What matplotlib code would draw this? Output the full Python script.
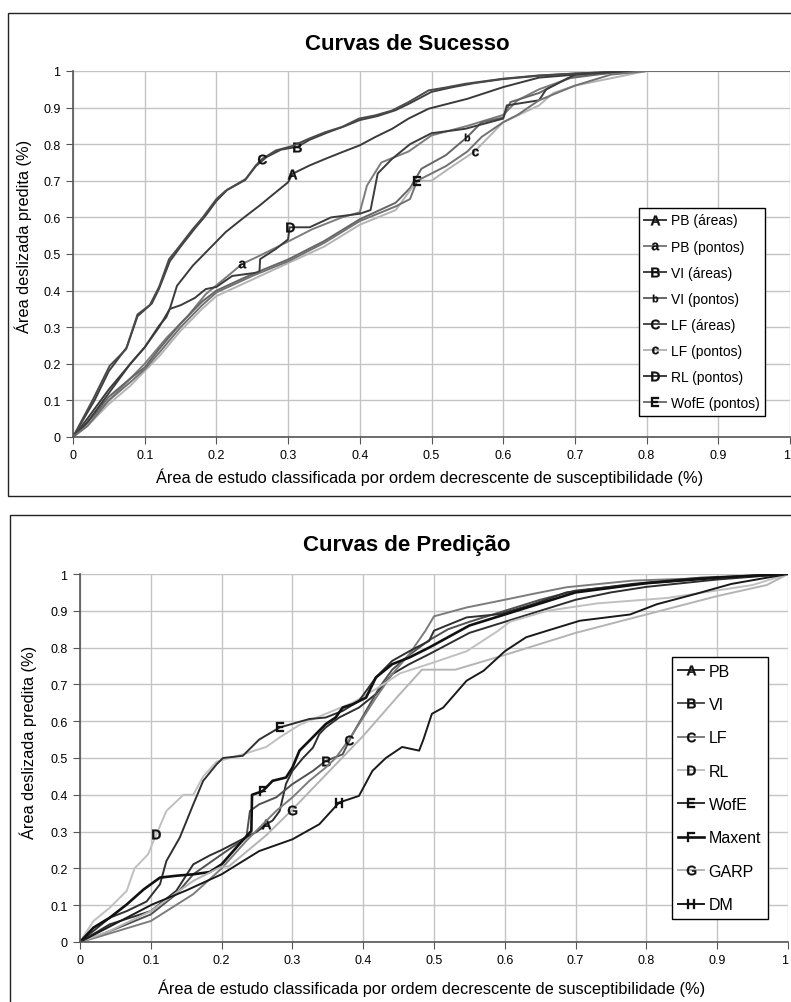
import numpy as np
import matplotlib
matplotlib.use("Agg")
import matplotlib.pyplot as plt
from matplotlib.patches import Rectangle

plt.rcParams['font.family'] = ['Liberation Sans', 'DejaVu Sans']
plt.rcParams['mathtext.fontset'] = 'custom'
plt.rcParams['mathtext.rm'] = 'Liberation Sans'
plt.rcParams['mathtext.bf'] = 'Liberation Sans:bold'

# ---- data: Curvas de Sucesso ----
suc_A_x = [0, 0.02, 0.05, 0.08, 0.1, 0.12, 0.13, 0.135, 0.145, 0.167, 0.19, 0.213, 0.236, 0.26, 0.283, 0.3, 0.306, 0.33, 0.352, 0.375, 0.4, 0.422, 0.445, 0.468, 0.496, 0.55, 0.6, 0.65, 0.7, 0.75, 0.8, 1.0]
suc_A_y = [0, 0.05, 0.13, 0.2, 0.245, 0.304, 0.327, 0.35, 0.413, 0.468, 0.514, 0.56, 0.596, 0.632, 0.669, 0.696, 0.719, 0.742, 0.76, 0.778, 0.797, 0.82, 0.842, 0.87, 0.897, 0.924, 0.956, 0.982, 0.99, 0.997, 1.0, 1.0]

suc_a_x = [0, 0.03, 0.06, 0.1, 0.13, 0.16, 0.185, 0.222, 0.236, 0.26, 0.306, 0.334, 0.375, 0.4, 0.41, 0.43, 0.468, 0.5, 0.55, 0.6, 0.62, 0.65, 0.7, 0.75, 0.8, 1.0]
suc_a_y = [0, 0.06, 0.12, 0.2, 0.27, 0.33, 0.39, 0.45, 0.473, 0.495, 0.54, 0.568, 0.6, 0.614, 0.687, 0.75, 0.78, 0.824, 0.85, 0.88, 0.92, 0.95, 0.985, 0.995, 1.0, 1.0]

suc_C_x = [0, 0.028, 0.051, 0.074, 0.09, 0.107, 0.12, 0.134, 0.144, 0.167, 0.181, 0.2, 0.213, 0.241, 0.255, 0.264, 0.283, 0.306, 0.329, 0.352, 0.375, 0.399, 0.422, 0.445, 0.468, 0.496, 0.52, 0.547, 0.6, 0.65, 0.7, 0.75, 0.8, 1.0]
suc_C_y = [0, 0.103, 0.194, 0.24, 0.335, 0.36, 0.41, 0.486, 0.51, 0.568, 0.6, 0.65, 0.673, 0.705, 0.742, 0.76, 0.783, 0.795, 0.815, 0.833, 0.847, 0.87, 0.879, 0.892, 0.915, 0.947, 0.955, 0.965, 0.979, 0.988, 0.993, 0.997, 1.0, 1.0]

suc_B_x = [0, 0.03, 0.05, 0.075, 0.09, 0.11, 0.12, 0.135, 0.15, 0.17, 0.185, 0.2, 0.215, 0.24, 0.255, 0.27, 0.29, 0.313, 0.33, 0.355, 0.38, 0.4, 0.425, 0.45, 0.47, 0.5, 0.53, 0.56, 0.6, 0.65, 0.7, 0.76, 0.8, 1.0]
suc_B_y = [0, 0.1, 0.18, 0.245, 0.33, 0.365, 0.405, 0.48, 0.52, 0.57, 0.605, 0.645, 0.675, 0.702, 0.74, 0.765, 0.785, 0.793, 0.812, 0.832, 0.85, 0.866, 0.877, 0.893, 0.912, 0.943, 0.956, 0.967, 0.978, 0.987, 0.993, 0.998, 1.0, 1.0]

suc_b_x = [0, 0.02, 0.05, 0.08, 0.1, 0.12, 0.15, 0.18, 0.2, 0.25, 0.3, 0.35, 0.4, 0.45, 0.47, 0.486, 0.52, 0.55, 0.57, 0.6, 0.61, 0.65, 0.69, 0.75, 0.8, 1.0]
suc_b_y = [0, 0.04, 0.11, 0.16, 0.19, 0.24, 0.31, 0.37, 0.4, 0.445, 0.485, 0.535, 0.595, 0.64, 0.68, 0.733, 0.77, 0.82, 0.86, 0.873, 0.915, 0.94, 0.98, 0.995, 1.0, 1.0]

suc_c_x = [0, 0.02, 0.05, 0.08, 0.1, 0.12, 0.15, 0.18, 0.2, 0.25, 0.3, 0.35, 0.4, 0.45, 0.48, 0.5, 0.524, 0.56, 0.58, 0.6, 0.65, 0.67, 0.7, 0.75, 0.8, 1.0]
suc_c_y = [0, 0.03, 0.09, 0.14, 0.18, 0.22, 0.29, 0.35, 0.385, 0.43, 0.475, 0.52, 0.58, 0.62, 0.70, 0.70, 0.733, 0.78, 0.82, 0.86, 0.906, 0.94, 0.96, 0.98, 1.0, 1.0]

suc_D_x = [0, 0.02, 0.05, 0.08, 0.1, 0.12, 0.135, 0.15, 0.17, 0.185, 0.2, 0.222, 0.26, 0.261, 0.283, 0.3, 0.302, 0.33, 0.36, 0.4, 0.415, 0.425, 0.445, 0.47, 0.5, 0.547, 0.6, 0.605, 0.65, 0.66, 0.7, 0.75, 0.8, 1.0]
suc_D_y = [0, 0.04, 0.12, 0.2, 0.245, 0.3, 0.35, 0.36, 0.38, 0.404, 0.41, 0.44, 0.45, 0.486, 0.514, 0.54, 0.573, 0.573, 0.6, 0.61, 0.62, 0.72, 0.76, 0.8, 0.83, 0.842, 0.87, 0.906, 0.92, 0.95, 0.99, 0.997, 1.0, 1.0]

suc_E_x = [0, 0.02, 0.05, 0.08, 0.1, 0.12, 0.15, 0.18, 0.2, 0.25, 0.3, 0.35, 0.4, 0.45, 0.47, 0.48, 0.5, 0.52, 0.55, 0.57, 0.6, 0.62, 0.65, 0.7, 0.75, 0.8, 1.0]
suc_E_y = [0, 0.03, 0.1, 0.15, 0.185, 0.23, 0.3, 0.36, 0.395, 0.44, 0.48, 0.53, 0.59, 0.63, 0.65, 0.7, 0.72, 0.74, 0.78, 0.82, 0.86, 0.88, 0.92, 0.96, 0.99, 1.0, 1.0]

# ---- data: Curvas de Predicao ----
pre_A_x = [0, 0.042, 0.1, 0.136, 0.16, 0.183, 0.2, 0.23, 0.25, 0.263, 0.272, 0.282, 0.291, 0.3, 0.315, 0.329, 0.338, 0.347, 0.366, 0.394, 0.418, 0.441, 0.465, 0.493, 0.55, 0.6, 0.65, 0.7, 0.75, 0.8, 0.9, 1.0]
pre_A_y = [0, 0.048, 0.084, 0.139, 0.211, 0.235, 0.25, 0.28, 0.3, 0.32, 0.33, 0.356, 0.43, 0.465, 0.5, 0.528, 0.565, 0.583, 0.61, 0.637, 0.674, 0.728, 0.755, 0.782, 0.84, 0.87, 0.9, 0.93, 0.95, 0.965, 0.985, 1.0]

pre_B_x = [0, 0.019, 0.066, 0.1, 0.136, 0.16, 0.2, 0.235, 0.24, 0.253, 0.277, 0.3, 0.329, 0.347, 0.371, 0.385, 0.404, 0.423, 0.441, 0.465, 0.493, 0.52, 0.55, 0.6, 0.65, 0.7, 0.8, 0.9, 1.0]
pre_B_y = [0, 0.012, 0.048, 0.075, 0.13, 0.184, 0.238, 0.284, 0.356, 0.374, 0.393, 0.429, 0.465, 0.492, 0.51, 0.565, 0.628, 0.692, 0.74, 0.78, 0.82, 0.85, 0.87, 0.9, 0.93, 0.955, 0.975, 0.99, 1.0]

pre_C_x = [0, 0.019, 0.1, 0.16, 0.2, 0.235, 0.253, 0.277, 0.3, 0.324, 0.347, 0.361, 0.38, 0.394, 0.418, 0.441, 0.465, 0.488, 0.5, 0.546, 0.6, 0.64, 0.687, 0.78, 0.9, 1.0]
pre_C_y = [0, 0.01, 0.057, 0.13, 0.2, 0.275, 0.31, 0.356, 0.393, 0.438, 0.474, 0.5, 0.55, 0.592, 0.664, 0.728, 0.782, 0.846, 0.885, 0.909, 0.93, 0.946, 0.964, 0.982, 0.99, 1.0]

pre_D_x = [0, 0.019, 0.042, 0.066, 0.077, 0.096, 0.108, 0.122, 0.146, 0.16, 0.174, 0.193, 0.23, 0.263, 0.282, 0.31, 0.347, 0.385, 0.42, 0.452, 0.5, 0.546, 0.59, 0.607, 0.66, 0.73, 0.83, 0.95, 1.0]
pre_D_y = [0, 0.057, 0.093, 0.139, 0.2, 0.238, 0.293, 0.356, 0.4, 0.4, 0.45, 0.49, 0.51, 0.53, 0.556, 0.59, 0.62, 0.65, 0.69, 0.73, 0.76, 0.79, 0.845, 0.87, 0.9, 0.92, 0.935, 0.97, 1.0]

pre_E_x = [0, 0.019, 0.042, 0.066, 0.094, 0.113, 0.122, 0.141, 0.16, 0.174, 0.193, 0.202, 0.23, 0.253, 0.282, 0.324, 0.347, 0.371, 0.394, 0.418, 0.441, 0.465, 0.493, 0.5, 0.546, 0.593, 0.64, 0.687, 0.78, 0.876, 1.0]
pre_E_y = [0, 0.03, 0.066, 0.084, 0.11, 0.157, 0.22, 0.284, 0.374, 0.438, 0.483, 0.5, 0.506, 0.55, 0.583, 0.606, 0.61, 0.628, 0.655, 0.719, 0.764, 0.79, 0.818, 0.846, 0.882, 0.891, 0.918, 0.95, 0.973, 0.99, 1.0]

pre_F_x = [0, 0.019, 0.042, 0.066, 0.09, 0.113, 0.136, 0.16, 0.183, 0.2, 0.225, 0.242, 0.243, 0.258, 0.272, 0.291, 0.3, 0.31, 0.324, 0.347, 0.361, 0.371, 0.385, 0.404, 0.418, 0.441, 0.465, 0.493, 0.55, 0.6, 0.65, 0.7, 0.8, 0.9, 1.0]
pre_F_y = [0, 0.039, 0.066, 0.102, 0.143, 0.175, 0.18, 0.184, 0.19, 0.211, 0.266, 0.302, 0.4, 0.41, 0.438, 0.447, 0.474, 0.52, 0.547, 0.592, 0.61, 0.637, 0.646, 0.664, 0.719, 0.755, 0.773, 0.8, 0.86, 0.89, 0.92, 0.95, 0.975, 0.99, 1.0]

pre_G_x = [0, 0.042, 0.1, 0.16, 0.2, 0.21, 0.263, 0.3, 0.35, 0.4, 0.45, 0.483, 0.53, 0.6, 0.7, 0.8, 0.9, 0.97, 1.0]
pre_G_y = [0, 0.03, 0.084, 0.166, 0.205, 0.205, 0.29, 0.36, 0.46, 0.56, 0.67, 0.74, 0.74, 0.78, 0.84, 0.89, 0.94, 0.97, 1.0]

pre_H_x = [0, 0.05, 0.102, 0.15, 0.2, 0.253, 0.3, 0.338, 0.366, 0.394, 0.413, 0.432, 0.455, 0.479, 0.485, 0.497, 0.513, 0.546, 0.57, 0.6, 0.63, 0.66, 0.706, 0.777, 0.815, 0.87, 0.92, 1.0]
pre_H_y = [0, 0.05, 0.102, 0.14, 0.184, 0.247, 0.279, 0.32, 0.379, 0.397, 0.465, 0.5, 0.53, 0.52, 0.55, 0.62, 0.637, 0.71, 0.737, 0.79, 0.828, 0.846, 0.873, 0.89, 0.918, 0.946, 0.973, 1.0]

tick_vals = [0, 0.1, 0.2, 0.3, 0.4, 0.5, 0.6, 0.7, 0.8, 0.9, 1]
tick_labels = ['0', '0.1', '0.2', '0.3', '0.4', '0.5', '0.6', '0.7', '0.8', '0.9', '1']

# (x, y, letter, legend label, colour, width, where the letter sits)
suc_series = [
    (suc_A_x, suc_A_y, 'A', 'PB (áreas)', '#3a3a3a', 1.4, 0.306),
    (suc_a_x, suc_a_y, 'a', 'PB (pontos)', '#7c7c7c', 1.4, 0.236),
    (suc_B_x, suc_B_y, 'B', 'VI (áreas)', '#404040', 1.4, 0.313),
    (suc_b_x, suc_b_y, 'b', 'VI (pontos)', '#666666', 1.4, 0.55),
    (suc_C_x, suc_C_y, 'C', 'LF (áreas)', '#4a4a4a', 1.4, 0.264),
    (suc_c_x, suc_c_y, 'c', 'LF (pontos)', '#b4b4b4', 1.4, 0.56),
    (suc_D_x, suc_D_y, 'D', 'RL (pontos)', '#3c3c3c', 1.4, 0.302),
    (suc_E_x, suc_E_y, 'E', 'WofE (pontos)', '#727272', 1.4, 0.48),
]
pre_series = [
    (pre_A_x, pre_A_y, 'A', 'PB', '#2e2e2e', 1.4, 0.263),
    (pre_B_x, pre_B_y, 'B', 'VI', '#505050', 1.4, 0.347),
    (pre_C_x, pre_C_y, 'C', 'LF', '#7c7c7c', 1.4, 0.38),
    (pre_D_x, pre_D_y, 'D', 'RL', '#c0c0c0', 1.4, 0.108),
    (pre_E_x, pre_E_y, 'E', 'WofE', '#303030', 1.4, 0.282),
    (pre_F_x, pre_F_y, 'F', 'Maxent', '#111111', 1.9, 0.258),
    (pre_G_x, pre_G_y, 'G', 'GARP', '#b4b4b4', 1.4, 0.3),
    (pre_H_x, pre_H_y, 'H', 'DM', '#1a1a1a', 1.4, 0.366),
]

W, H = 791.0, 1003.0  # picture size in pixels, used for placing things


def draw_panel(ax, series, legend_fs, legend_anchor, legend_spacing):
    for x, y, letter, label, color, lw, lx in series:
        k = int(np.argmin(np.abs(np.array(x) - lx)))
        ms = 7 if letter.isupper() else 5.5
        ax.plot(x, y, color=color, lw=lw, label=label,
                marker='$\\mathbf{' + letter + '}$', markevery=[k], markersize=ms,
                markerfacecolor='#111111', markeredgecolor='#111111', markeredgewidth=0.2)
    ax.set_xlim(0, 1)
    ax.set_ylim(0, 1)
    ax.set_xticks(tick_vals)
    ax.set_xticklabels(tick_labels)
    ax.set_yticks(tick_vals)
    ax.set_yticklabels(tick_labels)
    ax.get_xticklabels()[-1].set_ha('right')  # the "1" sits at the picture's edge
    ax.grid(color='#c4c4c4', lw=1)
    ax.set_axisbelow(True)
    ax.spines['top'].set_visible(False)
    ax.spines['right'].set_visible(False)
    for s in ['left', 'bottom']:
        ax.spines[s].set_color('#555555')
        ax.spines[s].set_linewidth(1.2)
    ax.tick_params(direction='out', length=5, color='#555555', labelsize=9, pad=4)
    leg = ax.legend(loc='upper left', bbox_to_anchor=legend_anchor, borderaxespad=0,
                    fontsize=legend_fs, numpoints=1, handlelength=1.6, handletextpad=0.3,
                    labelspacing=legend_spacing, borderpad=0.4, fancybox=False,
                    frameon=True, edgecolor='black', framealpha=1)
    leg.get_frame().set_linewidth(1.0)


fig = plt.figure(figsize=(7.91, 10.03), dpi=100)

# panel frames
fig.add_artist(Rectangle((8 / W, 1 - 497 / H), 1.0, 483 / H, transform=fig.transFigure,
                         fill=False, edgecolor='#222222', lw=1))
fig.add_artist(Rectangle((10 / W, -0.01), 1.0, 1 - 516 / H + 0.01, transform=fig.transFigure,
                         fill=False, edgecolor='#222222', lw=1))

ax1 = fig.add_axes([73 / W, 1 - 438 / H, 717 / W, 366 / H])
draw_panel(ax1, suc_series, 10, (0.789, 0.626), 0.87)

ax2 = fig.add_axes([80 / W, 1 - 943 / H, 708 / W, 368 / H])
draw_panel(ax2, pre_series, 11.5, (0.836, 0.774), 1.15)

xlab = 'Área de estudo classificada por ordem decrescente de susceptibilidade (%)'
ylab = 'Área deslizada predita (%)'

fig.text(407 / W, 1 - 44 / H, 'Curvas de Sucesso', fontsize=16, fontweight='bold',
         ha='center', va='center')
fig.text(407 / W, 1 - 545 / H, 'Curvas de Predição', fontsize=16, fontweight='bold',
         ha='center', va='center')
fig.text(430 / W, 1 - 477 / H, xlab, fontsize=11.8, ha='center', va='center')
fig.text(432 / W, 1 - 988 / H, xlab, fontsize=11.8, ha='center', va='center')
fig.text(23 / W, 1 - 236 / H, ylab, fontsize=11.8, rotation=90, ha='center', va='center')
fig.text(28 / W, 1 - 742 / H, ylab, fontsize=11.8, rotation=90, ha='center', va='center')

fig.savefig('out.png', dpi=100)
